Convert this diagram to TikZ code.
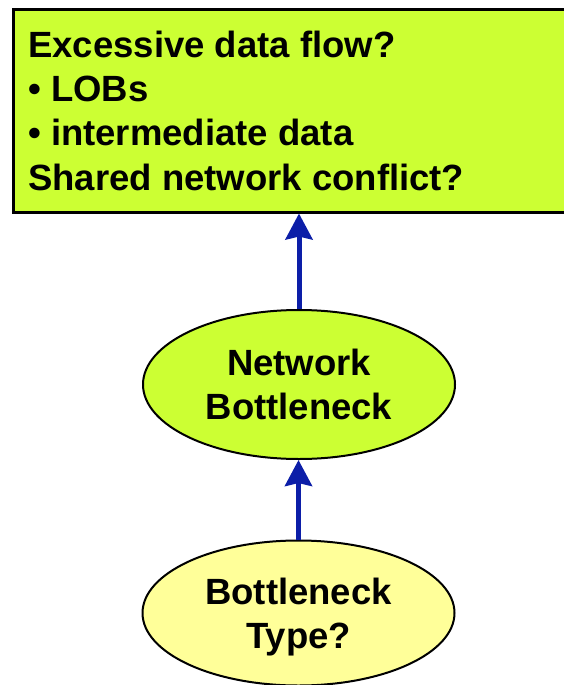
\documentclass[tikz,border=0pt]{standalone}
\usepackage{fontspec}
\setmainfont{Liberation Sans}
\usetikzlibrary{shapes.geometric,arrows.meta}
\definecolor{limefill}{RGB}{204,255,51}
\definecolor{paleyellow}{RGB}{255,255,153}
\definecolor{arrowblue}{RGB}{12,30,168}
\tikzset{
  bigtext/.style={font=\fontsize{36.5pt}{44.3pt}\selectfont\bfseries},
  topbox/.style={draw=black,line width=3pt,fill=limefill,rectangle,inner sep=0pt,
    minimum width=562pt,minimum height=202.5pt},
  oval/.style={ellipse,draw=black,line width=2pt,inner sep=0pt,
    minimum width=312pt,align=center,bigtext},
  uparrow/.style={draw=arrowblue,line width=5pt,
    -{Stealth[length=26pt,width=27pt,inset=3pt]}}
}
\begin{document}
\begin{tikzpicture}[x=1pt,y=-1pt]
\useasboundingbox (0,0) rectangle (563,685);
\node[topbox] (top) at (294,110.75) {};
\node[bigtext,anchor=base west,align=left,inner sep=0pt] (toptext) at (28,190)
  {Excessive data flow?\\ • LOBs\\ • intermediate data\\ Shared network conflict?};
\node[oval,fill=limefill,minimum height=149pt] (net) at (299,384.5) {Network\\Bottleneck};
\node[oval,fill=paleyellow,minimum height=145pt,text depth=0pt] (type) at (298.5,613) {Bottleneck\\Type?};
\draw[uparrow] (net.north) -- (net.north |- top.south);
\draw[uparrow] (type.north) -- (type.north |- net.south);
\end{tikzpicture}
\end{document}
